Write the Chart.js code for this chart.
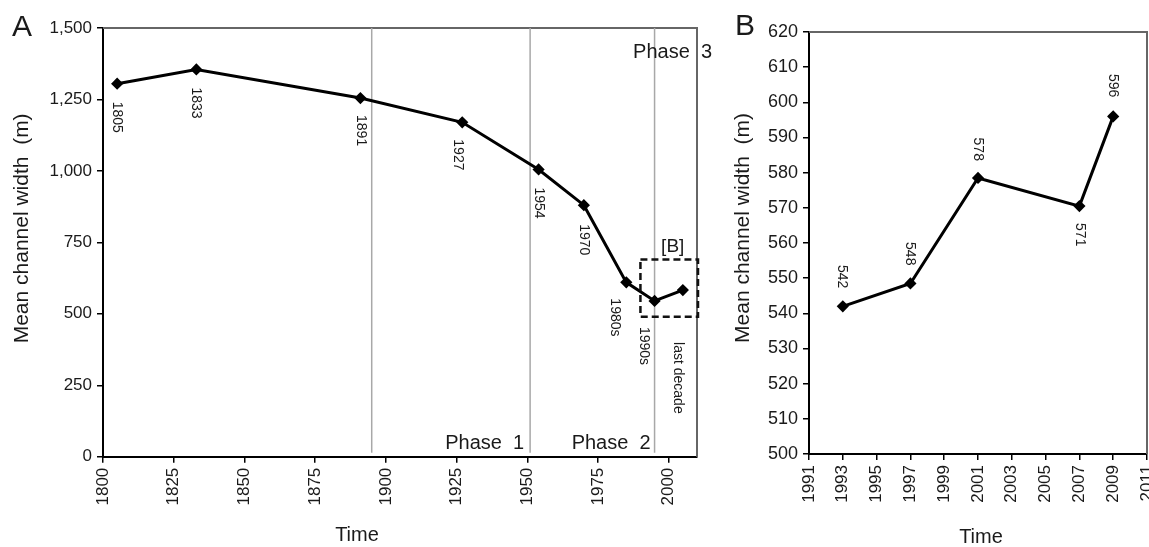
<!DOCTYPE html>
<html>
<head>
<meta charset="utf-8">
<script src="https://cdn.jsdelivr.net/npm/chart.js@4"></script>
<style>
  body { margin: 0; background: #fff; overflow: hidden; }
  .panel { position: absolute; top: 0; height: 547px; }
  #boxA { left: 0; width: 720px; }
  #boxB { left: 720px; width: 429px; }
</style>
</head>
<body>
<div class="panel" id="boxA"><canvas id="chartA"></canvas></div>
<div class="panel" id="boxB"><canvas id="chartB"></canvas></div>
<script>
// Panel A: long-term channel width
const yearsA = [1805, 1833, 1891, 1927, 1954, 1970, 1985, 1995, 2005];
const widthsA = [1305, 1355, 1255, 1170, 1005, 880, 610, 545, 583];
const pointLabelsA = ['1805', '1833', '1891', '1927', '1954', '1970', '1980s', '1990s', 'last decade'];
const phaseYears = [1895, 1951, 1995];
const phaseNames = ['Phase  1', 'Phase  2', 'Phase  3'];
const boxYears = [1990, 2010];
const boxWidths = [490, 690];

// Panel B: last decades (zoom of [B])
const yearsB = [1993, 1997, 2001, 2007, 2009];
const widthsB = [542, 548.5, 578.5, 570.5, 596];
const pointLabelsB = ['542', '548', '578', '571', '596'];

const FONT = "'Liberation Sans', Arial, sans-serif";
const INK = '#1a1a1a';

Chart.defaults.font.family = FONT;
Chart.defaults.color = INK;
Chart.defaults.animation = false;

// where each value label sits (side of the point, gap and shift in px)
const labelSideA = ['below', 'below', 'below', 'below', 'below', 'below', 'below', 'below', 'below'];
const labelGapA = [18, 18, 17, 17, 18, 19, 16, 26, 52];
const labelDxA = [0, 0, 0, -4, 0, 0, -11, -11, -5];
const labelSideB = ['above', 'above', 'above', 'below', 'above'];
const labelGapB = [18, 18, 17, 17, 19];
const labelDxB = [-1, -1, 0, 0, 0];

function rotText(ctx, text, x, y, angle, align, baseline, font) {
    ctx.save();
    ctx.translate(x, y);
    ctx.rotate(angle);
    ctx.font = font;
    ctx.fillStyle = INK;
    ctx.textAlign = align;
    ctx.textBaseline = baseline;
    ctx.fillText(text, 0, 0);
    ctx.restore();
}

function drawFrame(chart) {
    const {ctx, chartArea: a} = chart;
    ctx.save();
    ctx.strokeStyle = '#666';
    ctx.lineWidth = 2;
    ctx.beginPath();
    ctx.moveTo(a.left, a.top);
    ctx.lineTo(a.right, a.top);
    ctx.lineTo(a.right, a.bottom);
    ctx.stroke();
    ctx.restore();
}

function drawPointLabels(chart, labels, sides, gaps, dxs) {
    const {ctx} = chart;
    const pts = chart.getDatasetMeta(0).data;
    pts.forEach((p, i) => {
        const below = sides[i] === 'below';
        const y = below ? p.y + gaps[i] : p.y - gaps[i];
        rotText(ctx, labels[i], p.x + dxs[i], y, Math.PI / 2, below ? 'left' : 'right', 'middle', '14px ' + FONT);
    });
}

const panelA = {
    id: 'panelA',
    beforeDatasetsDraw(chart) {
        const {ctx, chartArea: a, scales: {x}} = chart;
        drawFrame(chart);
        ctx.save();
        ctx.strokeStyle = '#a8a8a8';
        ctx.lineWidth = 1.5;
        phaseYears.forEach(v => {
            const px = x.getPixelForValue(v);
            ctx.beginPath();
            ctx.moveTo(px, a.top);
            ctx.lineTo(px, a.bottom - 4);
            ctx.stroke();
        });
        ctx.restore();
    },
    afterDatasetsDraw(chart) {
        const {ctx, chartArea: a, scales: {x, y}} = chart;
        drawPointLabels(chart, pointLabelsA, labelSideA, labelGapA, labelDxA);

        // dashed box marking panel B
        const bx1 = x.getPixelForValue(boxYears[0]), bx2 = x.getPixelForValue(boxYears[1]);
        const by1 = y.getPixelForValue(boxWidths[1]), by2 = y.getPixelForValue(boxWidths[0]);
        ctx.save();
        ctx.strokeStyle = '#111';
        ctx.lineWidth = 2.5;
        ctx.setLineDash([7, 4]);
        ctx.strokeRect(bx1, by1, bx2 - bx1 + 1, by2 - by1);
        ctx.restore();
        rotText(ctx, '[B]', (bx1 + bx2) / 2 + 4, by1 - 7, 0, 'center', 'alphabetic', '19px ' + FONT);

        // phase names
        const p1 = x.getPixelForValue(phaseYears[1]);
        const p3 = x.getPixelForValue(phaseYears[2]);
        rotText(ctx, phaseNames[0], p1 - 6, a.bottom - 8, 0, 'right', 'alphabetic', '20px ' + FONT);
        rotText(ctx, phaseNames[1], p3 - 4, a.bottom - 8, 0, 'right', 'alphabetic', '20px ' + FONT);
        rotText(ctx, phaseNames[2], a.right + 15, a.top + 30, 0, 'right', 'alphabetic', '20px ' + FONT);

        // axis titles and panel letter
        rotText(ctx, 'Mean channel width  (m)', 22, (a.top + a.bottom) / 2 - 14, -Math.PI / 2, 'center', 'middle', '21px ' + FONT);
        rotText(ctx, 'Time', 357, 535, 0, 'center', 'middle', '20px ' + FONT);
        rotText(ctx, 'A', 12, 36, 0, 'left', 'alphabetic', '30px ' + FONT);
    }
};

const panelB = {
    id: 'panelB',
    beforeDatasetsDraw(chart) {
        drawFrame(chart);
    },
    afterDatasetsDraw(chart) {
        const {ctx, chartArea: a} = chart;
        drawPointLabels(chart, pointLabelsB, labelSideB, labelGapB, labelDxB);
        rotText(ctx, 'Mean channel width  (m)', 23, (a.top + a.bottom) / 2 - 15, -Math.PI / 2, 'center', 'middle', '21px ' + FONT);
        rotText(ctx, 'Time', (a.left + a.right) / 2 + 3, 537, 0, 'center', 'middle', '20px ' + FONT);
        rotText(ctx, 'B', 15, 35, 0, 'left', 'alphabetic', '30px ' + FONT);
    }
};

function axis(min, max, step, fit, size) {
    return {
        type: 'linear',
        min: min,
        max: max,
        border: { display: true, color: '#000', width: 2 },
        grid: { display: true, drawOnChartArea: false, drawTicks: true, tickLength: 6, color: '#000', lineWidth: 1.5 },
        ticks: {
            stepSize: step,
            includeBounds: false,
            autoSkip: false,
            padding: 5,
            color: INK,
            font: { size: size || 17 }
        },
        afterFit: fit
    };
}

function lineData(xs, ys) {
    return {
        datasets: [{
            data: xs.map((v, i) => ({ x: v, y: ys[i] })),
            showLine: true,
            borderColor: '#000',
            borderWidth: 3,
            pointStyle: 'rectRot',
            pointRadius: 4,
            backgroundColor: '#000',
            pointBorderColor: '#000',
            tension: 0
        }]
    };
}

const xA = axis(1800, 2010, 25, s => { s.height = 90.3; s.paddingLeft = 0; s.paddingRight = 0; });
xA.ticks.maxRotation = 90;
xA.ticks.minRotation = 90;
xA.ticks.callback = v => String(v);
const yA = axis(0, 1500, 250, s => { s.width = 103; });
yA.ticks.callback = v => v.toLocaleString('en-US');

const chartA = new Chart(document.getElementById('chartA'), {
    type: 'scatter',
    data: lineData(yearsA, widthsA),
    options: {
        responsive: true,
        maintainAspectRatio: false,
        layout: { autoPadding: false, padding: { left: 0, right: 23, top: 28, bottom: 0 } },
        plugins: { legend: { display: false }, tooltip: { enabled: false } },
        scales: { x: xA, y: yA }
    },
    plugins: [panelA]
});

const xB = axis(1991, 2011, 2, s => { s.height = 93; s.paddingLeft = 0; s.paddingRight = 0; });
xB.ticks.maxRotation = 90;
xB.ticks.minRotation = 90;
xB.ticks.callback = v => String(v);
const yB = axis(500, 620, 10, s => { s.width = 89; }, 18);

const chartB = new Chart(document.getElementById('chartB'), {
    type: 'scatter',
    data: lineData(yearsB, widthsB),
    options: {
        responsive: true,
        maintainAspectRatio: false,
        layout: { autoPadding: false, padding: { left: 0, right: 2, top: 32, bottom: 0 } },
        plugins: { legend: { display: false }, tooltip: { enabled: false } },
        scales: { x: xB, y: yB }
    },
    plugins: [panelB]
});
</script>
</body>
</html>
